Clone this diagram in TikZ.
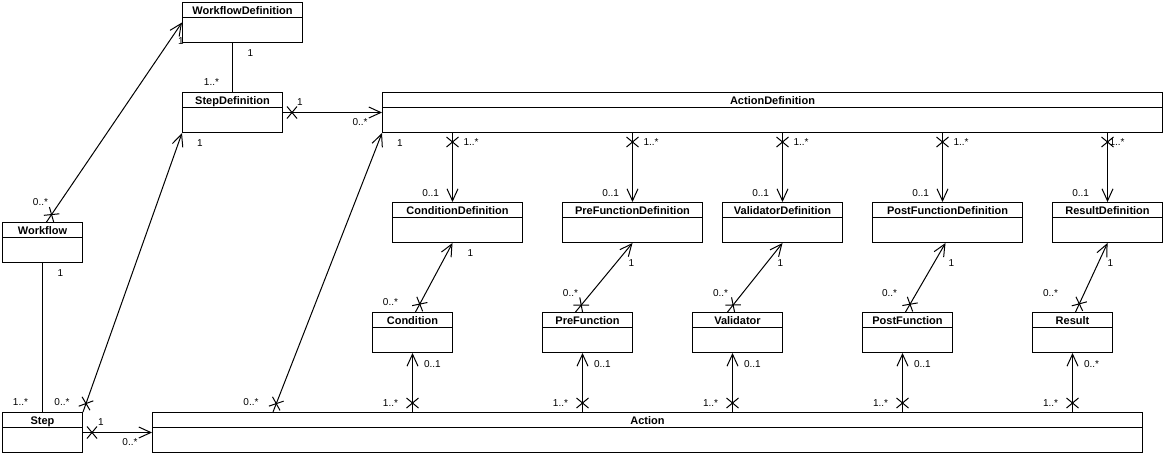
\documentclass[tikz,border=0pt]{standalone}
\usepackage{fontspec}
\setmainfont{Liberation Sans}
\usetikzlibrary{arrows.meta, decorations.markings}

\tikzset{
  classbox/.style={draw, rectangle, anchor=north west, minimum height=40pt, inner sep=0pt},
  classname/.style={font=\fontsize{11}{12}\selectfont\bfseries, inner sep=0pt, anchor=base},
  mult/.style={font=\fontsize{10}{11}\selectfont, inner sep=0pt},
  assoc/.style={-{Straight Barb[length=12pt, width=11pt]}},
  crossed/.style={postaction={decorate, decoration={markings,
      mark=at position 9pt with {\draw[-] (-5pt,-6pt) -- (5pt,6pt) (-5pt,6pt) -- (5pt,-6pt);}}}},
}

\begin{document}
\begin{tikzpicture}[x=1pt, y=-1pt, line width=1pt]
	\useasboundingbox (0,0) rectangle (1166,456);
	
	% Classes: name, top left corner, width, title
	\foreach \id/\x/\y/\w/\title in {
		wfdef/182/2/120/WorkflowDefinition,
		stepdef/182/92/100/StepDefinition,
		actdef/382/92/780/ActionDefinition,
		wf/2/222/80/Workflow,
		step/2/412/80/Step,
		act/152/412/990/Action,
		conddef/392/202/130/ConditionDefinition,
		prefdef/562/202/140/PreFunctionDefinition,
		valdef/722/202/120/ValidatorDefinition,
		postfdef/872/202/150/PostFunctionDefinition,
		resdef/1052/202/110/ResultDefinition,
		cond/372/312/80/Condition,
		pref/542/312/90/PreFunction,
		val/692/312/90/Validator,
		postf/862/312/90/PostFunction,
		res/1032/312/80/Result}
	{
		\node[classbox, minimum width=\w] (\id) at (\x,\y) {};
		\node[classname] (\id-title) at ([yshift=-12pt]\id.north) {\title};
		\draw ([yshift=-15pt]\id.north west) -- ([yshift=-15pt]\id.north east);
	}
	
	% Workflow and step associations
	\draw[assoc, crossed] ([xshift=4pt]wf.north) -- (wfdef.west)
		node[mult, at start, xshift=-6pt, yshift=20pt] {0..*}
		node[mult, at end, xshift=-1pt, yshift=-19pt] {1};
	\draw (stepdef.north |- wfdef.south) -- (stepdef.north)
		node[mult, at start, xshift=18pt, yshift=-10pt] {1}
		node[mult, at end, xshift=-21pt, yshift=10pt] {1..*};
	\draw[assoc, crossed] (stepdef.east) -- (actdef.west)
		node[mult, at start, xshift=17pt, yshift=10pt] {1}
		node[mult, at end, xshift=-22pt, yshift=-10pt] {0..*};
	\draw[assoc, crossed] (step.north east) -- (stepdef.south west)
		node[mult, at start, xshift=-21pt, yshift=10pt] {0..*}
		node[mult, at end, xshift=18pt, yshift=-10pt] {1};
	\draw (wf.south) -- (step.north)
		node[mult, at start, xshift=18pt, yshift=-10pt] {1}
		node[mult, at end, xshift=-22pt, yshift=10pt] {1..*};
	\draw[assoc, crossed] (step.east) -- (act.west)
		node[mult, at start, xshift=18pt, yshift=10pt] {1}
		node[mult, at end, xshift=-22pt, yshift=-10pt] {0..*};
	\draw[assoc, crossed] ([xshift=121pt]act.north west) -- (actdef.south west)
		node[mult, at start, xshift=-22pt, yshift=10pt] {0..*}
		node[mult, at end, xshift=18pt, yshift=-10pt] {1};
	
	% ActionDefinition to its parts
	\foreach \d/\s/\ga/\gb in {conddef/-5/10.5/13, prefdef/0/10.5/13, valdef/0/10.5/13,
		postfdef/-5/10.5/13, resdef/0/1.5/18}
	{
		\coordinate (\d-in) at ([xshift=\s pt]\d.north);
		\draw[assoc, crossed] (\d-in |- actdef.south) -- (\d-in)
			node[mult, at start, anchor=west, xshift=\ga pt, yshift=-9pt] {1..*}
			node[mult, at end, anchor=east, xshift=-\gb pt, yshift=9pt] {0..1};
	}
	
	% Action to its parts
	\foreach \c/\s/\m in {cond/0/0..1, pref/-5/0..1, val/-5/0..1, postf/-5/0..1, res/0/0..*}
	{
		\coordinate (\c-in) at ([xshift=\s pt]\c.south);
		\draw[assoc, crossed] (\c-in |- act.north) -- (\c-in)
			node[mult, at start, anchor=east, xshift=-14pt, yshift=9pt] {1..*}
			node[mult, at end, anchor=west, xshift=11pt, yshift=-11pt] {\m};
	}
	
	% Parts to their definitions
	\draw[assoc, crossed] ([xshift=3pt]cond.north) -- ([xshift=-5pt]conddef.south)
		node[mult, at start, anchor=east, xshift=-17pt, yshift=10pt] {0..*}
		node[mult, at end, xshift=18pt, yshift=-10.5pt] {1};
	\draw[assoc, crossed] ([xshift=-12pt]pref.north) -- (prefdef.south)
		node[mult, at start, anchor=east, xshift=3pt, yshift=19pt] {0..*}
		node[mult, at end, xshift=-1pt, yshift=-20pt] {1};
	\draw[assoc, crossed] ([xshift=-10pt]val.north) -- (valdef.south)
		node[mult, at start, anchor=east, xshift=1pt, yshift=19pt] {0..*}
		node[mult, at end, xshift=-2pt, yshift=-20pt] {1};
	\draw[assoc, crossed] ([xshift=-2pt]postf.north) -- ([xshift=-2pt]postfdef.south)
		node[mult, at start, anchor=east, xshift=-8pt, yshift=19pt] {0..*}
		node[mult, at end, xshift=6pt, yshift=-20pt] {1};
	\draw[assoc, crossed] ([xshift=3pt]res.north) -- (resdef.south)
		node[mult, at start, anchor=east, xshift=-17pt, yshift=19pt] {0..*}
		node[mult, at end, xshift=3pt, yshift=-20pt] {1};
\end{tikzpicture}
\end{document}
